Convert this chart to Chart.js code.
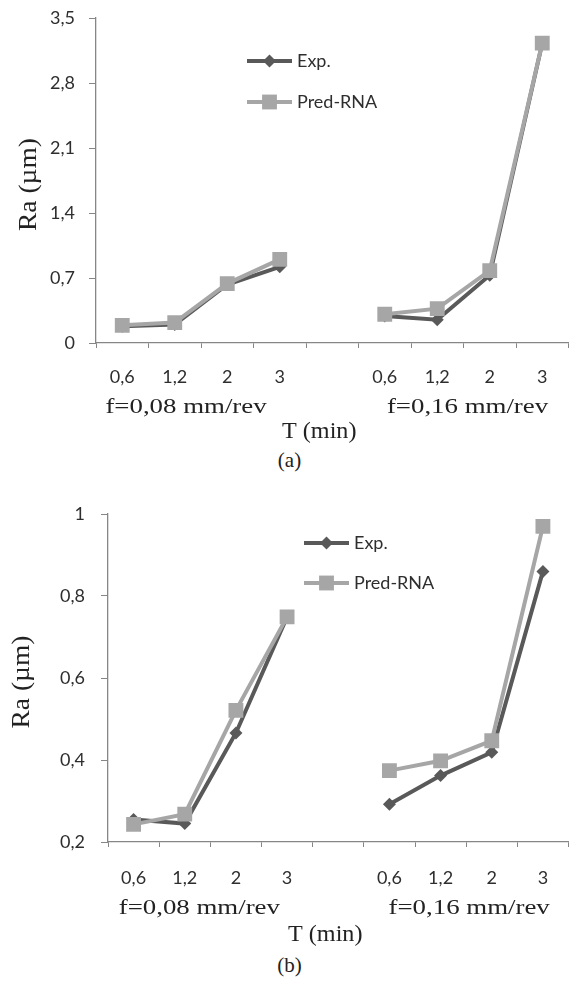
<!DOCTYPE html>
<html>
<head>
<meta charset="utf-8">
<script src="https://cdn.jsdelivr.net/npm/chart.js@4.4.1/dist/chart.umd.min.js"></script>
<style>
  body { margin: 0; background: #fff; width: 579px; height: 988px; position: relative; overflow: hidden; }
  canvas { position: absolute; left: 0; }
  .cap { position: absolute; left: 0; width: 579px; text-align: center; font-family: 'Liberation Serif', serif; font-size: 21px; color: #222; line-height: 24px; }
</style>
</head>
<body>
<canvas id="chartA" width="579" height="445" style="top:0"></canvas>
<div class="cap" style="top:448px">(a)</div>
<canvas id="chartB" width="579" height="470" style="top:480px"></canvas>
<div class="cap" style="top:953px">(b)</div>

<script>
/* ------------------------------------------------ */
// data

const CATEGORIES = ['0,6', '1,2', '2', '3'];
const GROUPS = ['f=0,08 mm/rev', 'f=0,16 mm/rev'];
const SERIES = ['Exp.', 'Pred-RNA'];
const X_TITLE = 'T (min)';
const Y_TITLE = 'Ra (\u00b5m)';

// (a)
const A_EXP_F008 = [0.18, 0.20, 0.63, 0.82];
const A_EXP_F016 = [0.29, 0.25, 0.73, 3.23];
const A_PRED_F008 = [0.19, 0.22, 0.64, 0.90];
const A_PRED_F016 = [0.31, 0.37, 0.78, 3.23];
const A_Y_TICKS = [0, 0.7, 1.4, 2.1, 2.8, 3.5];

// (b)
const B_EXP_F008 = [0.255, 0.245, 0.466, 0.749];
const B_EXP_F016 = [0.292, 0.362, 0.419, 0.86];
const B_PRED_F008 = [0.243, 0.268, 0.521, 0.749];
const B_PRED_F016 = [0.374, 0.398, 0.447, 0.97];
const B_Y_TICKS = [0.2, 0.4, 0.6, 0.8, 1];

const EXP_COLOR = '#595959';
const PRED_COLOR = '#a6a6a6';
const AXIS_COLOR = '#868686';
const TEXT_COLOR = '#2e2e2e';

/* ------------------------------------------------ */

Chart.defaults.font.family = 'Lato, "Open Sans", sans-serif';
Chart.defaults.devicePixelRatio = 1;

function fmt(v) {
  return String(Number(v.toFixed(2))).replace('.', ',');
}

function drawMarker(ctx, style, x, y, r, color) {
  ctx.fillStyle = color;
  ctx.beginPath();
  if (style == 'rectRot') {
    ctx.moveTo(x - r, y);
    ctx.lineTo(x, y - r);
    ctx.lineTo(x + r, y);
    ctx.lineTo(x, y + r);
  } else {
    let s = Math.SQRT1_2 * r;
    ctx.rect(x - s, y - s, 2 * s, 2 * s);
  }
  ctx.closePath();
  ctx.fill();
}

// the serif labels in the picture are a little wider than the font
function wideText(ctx, text, x, y, stretch) {
  ctx.save();
  ctx.translate(x, y);
  ctx.scale(stretch, 1);
  ctx.fillText(text, 0, 0);
  ctx.restore();
}

// legend sitting inside the plot area
const innerLegend = {
  id: 'innerLegend',
  afterDraw(chart, args, opts) {
    let ctx = chart.ctx;
    let area = chart.chartArea;
    ctx.save();
    chart.data.datasets.forEach((ds, i) => {
      let x0 = area.left + opts.x;
      let y = area.top + opts.y + i * opts.gap;
      ctx.strokeStyle = ds.borderColor;
      ctx.lineWidth = ds.borderWidth;
      ctx.beginPath();
      ctx.moveTo(x0, y);
      ctx.lineTo(x0 + 45, y);
      ctx.stroke();
      drawMarker(ctx, ds.pointStyle, x0 + 22.5, y, ds.pointRadius, ds.borderColor);
      ctx.fillStyle = TEXT_COLOR;
      ctx.font = '18px Lato, "Open Sans", sans-serif';
      ctx.textAlign = 'left';
      ctx.textBaseline = 'middle';
      ctx.fillText(ds.label, x0 + 50, y);
    });
    ctx.restore();
  }
};

// group labels under the tick labels, the axis titles
const groupLabels = {
  id: 'groupLabels',
  afterDraw(chart, args, opts) {
    let ctx = chart.ctx;
    let area = chart.chartArea;
    let xs = chart.scales.x;
    ctx.save();
    ctx.fillStyle = '#222';
    ctx.textAlign = 'center';
    ctx.textBaseline = 'middle';
    ctx.font = '22px "Liberation Serif", serif';
    GROUPS.forEach((g, i) => {
      let first = i * (CATEGORIES.length + 1);
      let last = first + CATEGORIES.length - 1;
      let cx = (xs.getPixelForValue(first) + xs.getPixelForValue(last)) / 2 + opts.dx[i];
      wideText(ctx, g, cx, area.bottom + opts.groupY, 1.22);
    });
    ctx.font = '23px "Liberation Serif", serif';
    wideText(ctx, X_TITLE, (area.left + area.right) / 2 + opts.titleDx, area.bottom + opts.titleY, 1.05);

    // y title, rotated
    ctx.font = '25px "Liberation Serif", serif';
    ctx.translate(opts.yTitleX, (area.top + area.bottom) / 2 + 4);
    ctx.rotate(-Math.PI / 2);
    wideText(ctx, Y_TITLE, 0, 0, 1.1);
    ctx.restore();
  }
};

/* ------------------------------------------------ */

function makeChart(id, exp, pred, yTicks, lay) {

  let labels = [...CATEGORIES, '', ...CATEGORIES];
  let canvas = document.getElementById(id);

  let datasets = [
    {
      label: SERIES[0],
      data: [...exp[0], null, ...exp[1]],
      borderColor: EXP_COLOR,
      backgroundColor: EXP_COLOR,
      borderWidth: 4,
      pointStyle: 'rectRot',
      pointRadius: 6.5,
      pointBorderWidth: 0,
      order: 1,
    },
    {
      label: SERIES[1],
      data: [...pred[0], null, ...pred[1]],
      borderColor: PRED_COLOR,
      backgroundColor: PRED_COLOR,
      borderWidth: 4,
      pointStyle: 'rect',
      pointRadius: 10.5,
      pointBorderWidth: 0,
      order: 0,
    },
  ];

  return new Chart(canvas.getContext('2d'), {
    type: 'line',
    data: { labels: labels, datasets: datasets },
    plugins: [innerLegend, groupLabels],
    options: {
      responsive: false,
      animation: false,
      events: [],
      layout: {
        padding: { left: 0, right: canvas.width - lay.right, top: lay.top, bottom: 0 },
      },
      plugins: {
        legend: { display: false },
        tooltip: { enabled: false },
        innerLegend: lay.legend,
        groupLabels: lay.groups,
      },
      scales: {
        x: {
          type: 'category',
          offset: true,
          grid: { offset: true, drawOnChartArea: false, color: AXIS_COLOR, tickLength: 5 },
          border: { color: AXIS_COLOR, width: 1.3 },
          ticks: { color: TEXT_COLOR, font: { size: 18 }, padding: lay.xTickPad, maxRotation: 0, autoSkip: false },
          afterFit: (s) => {
            s.height = canvas.height - lay.bottom;
            s.paddingLeft = 0;
            s.paddingRight = 0;
          },
        },
        y: {
          min: yTicks[0],
          max: yTicks[yTicks.length - 1],
          afterBuildTicks: (s) => { s.ticks = yTicks.map((v) => ({ value: v })); },
          grid: { drawOnChartArea: false, color: AXIS_COLOR, tickLength: 7 },
          border: { color: AXIS_COLOR, width: 1.3 },
          ticks: { color: TEXT_COLOR, font: { size: 18 }, padding: lay.yTickPad, callback: (v) => fmt(v) },
          afterFit: (s) => {
            s.width = lay.left;
            s.paddingTop = 0;
            s.paddingBottom = 0;
          },
        },
      },
    },
  });
}

/* ------------------------------------------------ */

makeChart('chartA', [A_EXP_F008, A_EXP_F016], [A_PRED_F008, A_PRED_F016], A_Y_TICKS, {
  left: 96, right: 569, top: 18, bottom: 343,
  xTickPad: 18, yTickPad: 14,
  legend: { x: 151, y: 43, gap: 41 },
  groups: { dx: [-15, 4], groupY: 64, titleDx: -13, titleY: 89, yTitleX: 29 },
});

makeChart('chartB', [B_EXP_F008, B_EXP_F016], [B_PRED_F008, B_PRED_F016], B_Y_TICKS, {
  left: 108, right: 579, top: 34, bottom: 362,
  xTickPad: 20, yTickPad: 16,
  legend: { x: 196, y: 29, gap: 40 },
  groups: { dx: [-11, 3], groupY: 66, titleDx: -13, titleY: 93, yTitleX: 22 },
});
</script>
</body>
</html>
